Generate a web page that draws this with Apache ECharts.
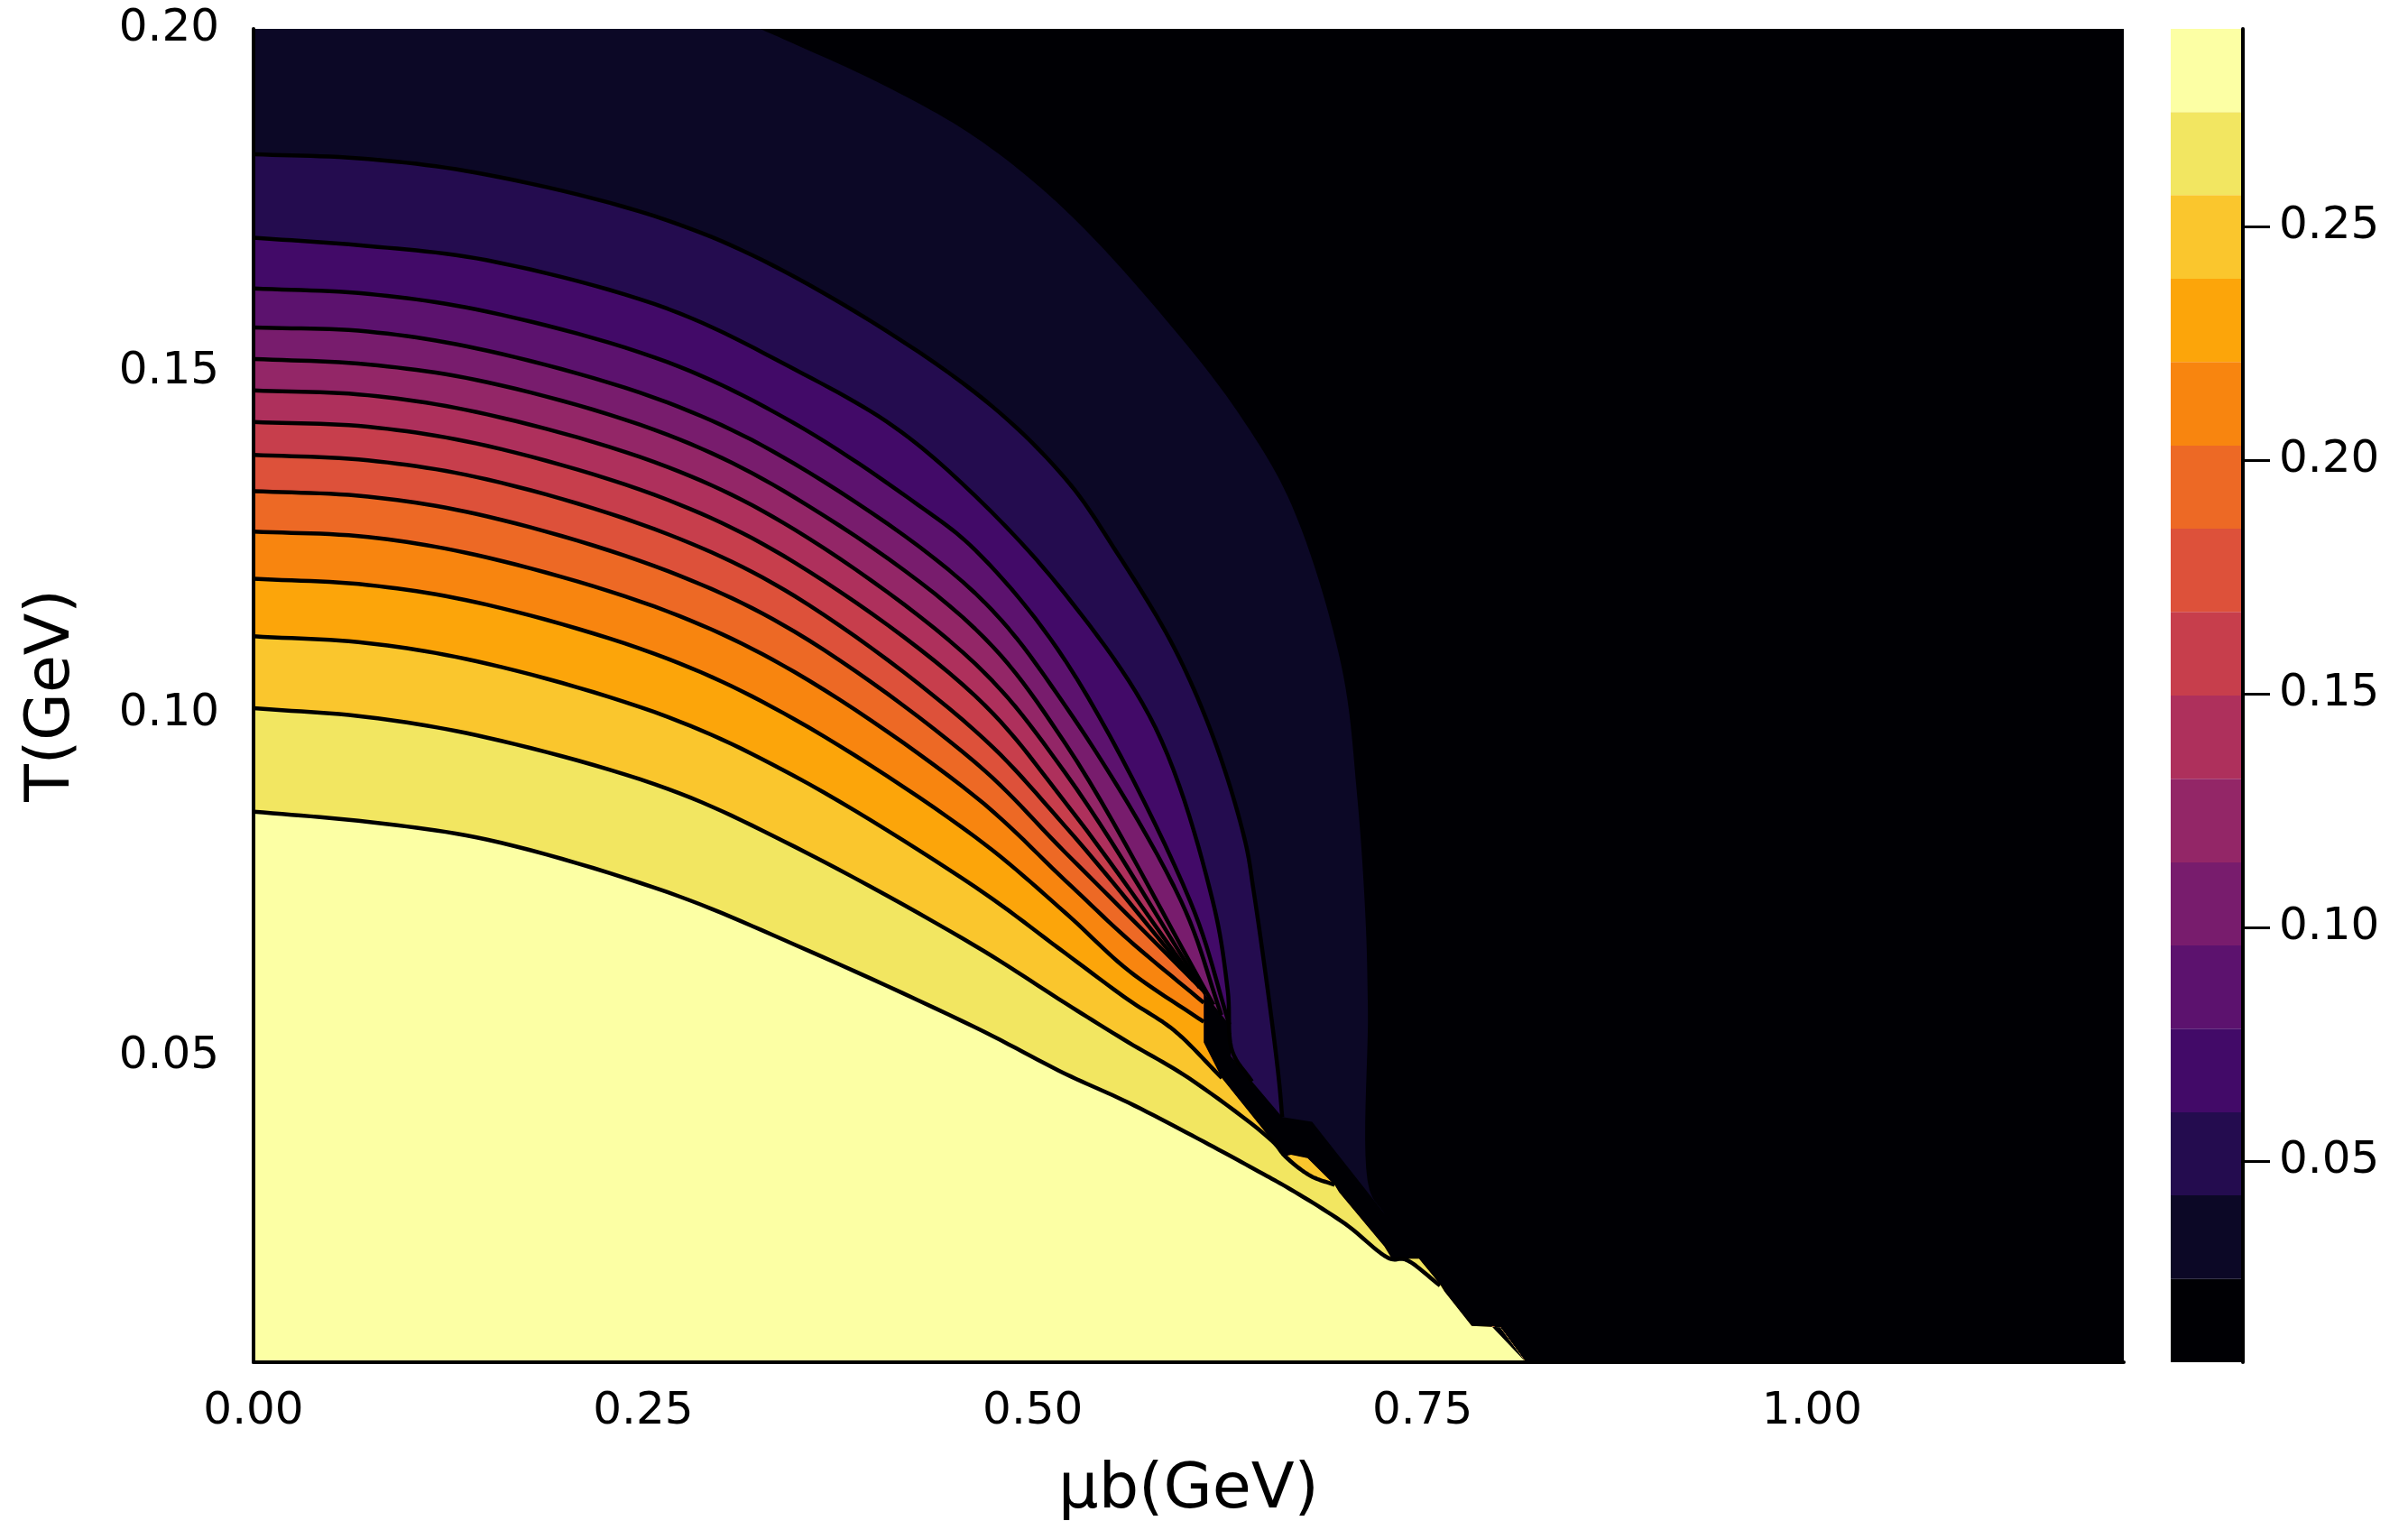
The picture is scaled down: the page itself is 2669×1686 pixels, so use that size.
<!DOCTYPE html>
<html>
<head>
<meta charset="utf-8">
<title>contour</title>
<script src="https://cdn.jsdelivr.net/npm/echarts@6.0.0/dist/echarts.min.js"></script>
<style>
html, body { margin: 0; padding: 0; background: #fff; }
#box { width: 2669px; height: 1686px; }
</style>
</head>
<body>
<div id="box"></div>
<script>
// axes
var T_MIN = 0.0053, T_MAX = 0.2, MU_MAX = 1.2;
var xTicks = [0, 0.25, 0.5, 0.75, 1.0];
var yTicks = [0.05, 0.10, 0.15, 0.20];
var barTicks = [0.05, 0.10, 0.15, 0.20, 0.25];

// colour bar: level boundaries and band colours (inferno)
var levels = [0.0069, 0.0247, 0.0426, 0.0604, 0.0783, 0.0961, 0.1139, 0.1318, 0.1496,
              0.1675, 0.1853, 0.2031, 0.2210, 0.2388, 0.2567, 0.2745, 0.2923];
var colors = ['#000004', '#0c0826', '#240c4f', '#420a68', '#5c126e', '#781c6d', '#932667', '#ae305c',
              '#c73e4c', '#dd513a', '#ed6925', '#f8850f', '#fca50a', '#fac62d', '#f2e661', '#fcffa4'];

// contour k: boundary between colour k-1 (outside) and colour k (inside), points [mu, T]
// (c01 starts on the top edge, all others on the T axis)
var c01 = [[0.325,0.2],[0.347,0.1978],[0.405,0.1917],[0.463,0.1842],[0.521,0.1735],
           [0.591,0.1560],[0.634,0.1432],[0.666,0.1305],[0.698,0.1070],[0.708,0.0883],
           [0.7136,0.0695],[0.715,0.0568],[0.716,0.0305],[0.7256,0.0270]];
var c02 = [[0,0.1817],[0.0734,0.1810],[0.150,0.1787],[0.266,0.1720],[0.347,0.1638],[0.463,0.1469],[0.521,0.1343],
           [0.554,0.1235],[0.5912,0.1094],[0.6178,0.0953],[0.6364,0.0812],[0.6417,0.0741],[0.6524,0.0568],
           [0.658,0.0463],[0.660,0.0411]];
var c03 = [[0,0.1695],[0.0734,0.1683],[0.150,0.1662],[0.266,0.1591],[0.347,0.1503],[0.411,0.1419],[0.463,0.1318],
           [0.521,0.1174],[0.5788,0.0979],[0.6155,0.0726],[0.6251,0.0595],[0.628,0.0507],[0.6406,0.0463]];
var c04 = [[0,0.1621],[0.0734,0.1613],[0.150,0.1587],[0.266,0.1513],[0.347,0.1424],[0.4263,0.1305],[0.463,0.1239],
           [0.521,0.1077],[0.601,0.0726],[0.6261,0.0546]];
var c05 = [[0,0.1564],[0.0734,0.1558],[0.150,0.1530],[0.266,0.1454],[0.347,0.1365],[0.463,0.1176],[0.521,0.1011],
           [0.5952,0.0726],[0.621,0.0560]];
var c06 = [[0,0.1518],[0.0734,0.1510],[0.150,0.1484],[0.266,0.1407],[0.347,0.1316],[0.463,0.1124],[0.521,0.0956],
           [0.616,0.0575]];
var c07 = [[0,0.1472],[0.0734,0.1465],[0.150,0.1437],[0.266,0.1360],[0.347,0.1269],[0.463,0.1073],[0.521,0.0913],
           [0.611,0.0590]];
var c08 = [[0,0.1426],[0.0734,0.1419],[0.150,0.1391],[0.266,0.1312],[0.347,0.1221],[0.463,0.1026],[0.521,0.0870],
           [0.607,0.0600]];
var c09 = [[0,0.1378],[0.0734,0.1370],[0.150,0.1342],[0.266,0.1262],[0.347,0.1172],[0.463,0.0975],[0.521,0.0835],
           [0.603,0.0610]];
var c10 = [[0,0.1325],[0.0734,0.1317],[0.150,0.1288],[0.266,0.1208],[0.347,0.1120],[0.463,0.0929],[0.521,0.0797],
           [0.6097,0.0595]];
var c11 = [[0,0.1266],[0.0734,0.1258],[0.150,0.1228],[0.266,0.1149],[0.347,0.1061],[0.463,0.0879],[0.521,0.0756],
           [0.5614,0.0670],[0.6097,0.0578]];
var c12 = [[0,0.1197],[0.0734,0.1188],[0.150,0.1159],[0.266,0.1080],[0.347,0.0992],[0.463,0.0820],[0.521,0.0709],
           [0.5614,0.0625],[0.6097,0.0550]];
var c13 = [[0,0.1113],[0.0734,0.1103],[0.150,0.1073],[0.266,0.0995],[0.347,0.0909],[0.463,0.0747],[0.521,0.0650],
           [0.5614,0.0582],[0.5904,0.0538],[0.6213,0.0468]];
var c14 = [[0,0.1008],[0.0734,0.0995],[0.150,0.0965],[0.266,0.0890],[0.347,0.0806],[0.463,0.0661],[0.521,0.0577],
           [0.5614,0.0520],[0.600,0.0468],[0.6541,0.0375],[0.6618,0.0354],[0.6783,0.0325],[0.6937,0.0312]];
var c15 = [[0,0.0857],[0.0734,0.0842],[0.150,0.0816],[0.266,0.0739],[0.347,0.0663],[0.463,0.0542],
           [0.521,0.0474],[0.5614,0.0432],[0.6097,0.0375],[0.6445,0.0332],[0.6657,0.0305],[0.7005,0.0255],
           [0.7294,0.0204],[0.739,0.0203],[0.7613,0.0165]];

// black jagged band along the transition line
var lowerEdge = [[0.603,0.0612],[0.6097,0.0599],[0.6097,0.0520],[0.6213,0.0468],[0.6541,0.0375],[0.6618,0.0354],
                 [0.6657,0.0356],[0.6763,0.0351],[0.6937,0.0312],[0.6966,0.0301],[0.7256,0.0222],[0.7304,0.0204],
                 [0.7478,0.0204],[0.7613,0.0167],[0.7642,0.0156],[0.7816,0.0106],[0.7999,0.0104],[0.8163,0.0053]];
var upperEdge = [[0.603,0.0612],[0.6261,0.0546],[0.6271,0.0500],[0.6406,0.0463],[0.660,0.0411],[0.6792,0.0404],
                 [0.7256,0.0270]];

var contours = [c01, c02, c03, c04, c05, c06, c07, c08, c09, c10, c11, c12, c13, c14, c15];

// centripetal Catmull-Rom through pixel points, drawing only
function spline(pts) {
    var n = pts.length;
    if (n < 3) return pts.slice();
    var P = [[2 * pts[0][0] - pts[1][0], 2 * pts[0][1] - pts[1][1]]].concat(pts)
        .concat([[2 * pts[n - 1][0] - pts[n - 2][0], 2 * pts[n - 1][1] - pts[n - 2][1]]]);
    var knot = function (a, b) {
        return Math.max(Math.sqrt(Math.hypot(b[0] - a[0], b[1] - a[1])), 1e-3);
    };
    var lerp = function (a, b, ta, tb, t) {
        var u = (t - ta) / (tb - ta);
        return [a[0] + (b[0] - a[0]) * u, a[1] + (b[1] - a[1]) * u];
    };
    var out = [pts[0]];
    for (var i = 1; i < P.length - 2; i++) {
        var p0 = P[i - 1], p1 = P[i], p2 = P[i + 1], p3 = P[i + 2];
        var t0 = 0, t1 = t0 + knot(p0, p1), t2 = t1 + knot(p1, p2), t3 = t2 + knot(p2, p3);
        for (var s = 1; s <= 12; s++) {
            var t = t1 + (t2 - t1) * s / 12;
            var a1 = lerp(p0, p1, t0, t1, t), a2 = lerp(p1, p2, t1, t2, t), a3 = lerp(p2, p3, t2, t3, t);
            var b1 = lerp(a1, a2, t0, t2, t), b2 = lerp(a2, a3, t1, t3, t);
            out.push(lerp(b1, b2, t1, t2, t));
        }
    }
    return out;
}

function tailOf(curve) {
    var end = curve[curve.length - 1];
    for (var i = 0; i < lowerEdge.length; i++) {
        if (lowerEdge[i][1] < end[1]) return lowerEdge.slice(i);
    }
    return [];
}

var chart = echarts.init(document.getElementById('box'));
var font = 'DejaVu Sans';
var fmt = function (v) { return v.toFixed(2); };
var toPx = function (api) { return function (p) { return api.coord(p); }; };

var series = [];
// filled bands, lowest level first
series.push({
    type: 'custom',
    xAxisIndex: 0, yAxisIndex: 0,
    clip: true, silent: true, z: 2,
    data: contours.map(function (c, i) { return [0, T_MIN, i + 1]; }),
    renderItem: function (params, api) {
        var k = api.value(2);
        var curve = contours[k - 1];
        var head = curve[0][0] > 0 ? [[0, T_MIN], [0, T_MAX]] : [[0, T_MIN]];
        var pts = head.map(toPx(api))
            .concat(spline(curve.map(toPx(api))))
            .concat(tailOf(curve).map(toPx(api)));
        return { type: 'polygon', shape: { points: pts }, style: { fill: colors[k] } };
    }
});
// jagged black band
series.push({
    type: 'custom',
    xAxisIndex: 0, yAxisIndex: 0,
    clip: true, silent: true, z: 3,
    data: [[0, T_MIN]],
    renderItem: function (params, api) {
        var poly = lowerEdge.concat(upperEdge.slice().reverse());
        return { type: 'polygon', shape: { points: poly.map(toPx(api)) }, style: { fill: colors[0] } };
    }
});
// contour lines
series.push({
    type: 'custom',
    xAxisIndex: 0, yAxisIndex: 0,
    clip: true, silent: true, z: 4,
    data: contours.slice(1).map(function (c, i) { return [0, T_MIN, i + 2]; }),
    renderItem: function (params, api) {
        var curve = contours[api.value(2) - 1];
        return {
            type: 'polyline',
            shape: { points: spline(curve.map(toPx(api))) },
            style: { stroke: '#000', lineWidth: 4.5, fill: null, lineJoin: 'round' }
        };
    }
});
// colour bar
series.push({
    type: 'custom',
    xAxisIndex: 1, yAxisIndex: 1,
    silent: true,
    data: colors.map(function (c, i) { return [0, levels[i], i]; }),
    renderItem: function (params, api) {
        var i = api.value(2);
        var p0 = api.coord([0, levels[i]]);
        var p1 = api.coord([1, levels[i + 1]]);
        return {
            type: 'rect',
            shape: { x: p0[0], y: p1[1], width: p1[0] - p0[0], height: p0[1] - p1[1] },
            style: { fill: colors[i] }
        };
    }
});

var option = {
    animation: false,
    backgroundColor: '#fff',
    textStyle: { fontFamily: font },
    grid: [
        { left: 281, top: 32, width: 2073, height: 1478, show: true, backgroundColor: colors[0], borderWidth: 0,
          containLabel: false, outerBoundsMode: 'none' },
        { left: 2406, top: 32, width: 80, height: 1478, containLabel: false, outerBoundsMode: 'none' }
    ],
    xAxis: [
        {
            type: 'value', gridIndex: 0, min: 0, max: MU_MAX, z: 10,
            name: 'μb(GeV)', nameLocation: 'middle', nameGap: 108,
            nameTextStyle: { fontSize: 70, color: '#000', fontFamily: font },
            axisLine: { show: true, onZero: false, lineStyle: { color: '#000', width: 4 } },
            axisTick: { show: false },
            splitLine: { show: false },
            axisLabel: { customValues: xTicks, formatter: fmt, fontSize: 50, color: '#000', margin: 30, fontFamily: font }
        },
        { type: 'value', gridIndex: 1, min: 0, max: 1, show: false }
    ],
    yAxis: [
        {
            type: 'value', gridIndex: 0, min: T_MIN, max: T_MAX, z: 10,
            name: 'T(GeV)', nameLocation: 'middle', nameGap: 189,
            nameTextStyle: { fontSize: 68, color: '#000', fontFamily: font },
            axisLine: { show: true, onZero: false, lineStyle: { color: '#000', width: 4 } },
            axisTick: { show: false },
            splitLine: { show: false },
            axisLabel: { customValues: yTicks, formatter: fmt, fontSize: 50, color: '#000', margin: 38, fontFamily: font }
        },
        {
            type: 'value', gridIndex: 1, position: 'right', min: levels[0], max: levels[levels.length - 1], z: 10,
            axisLine: { show: true, onZero: false, lineStyle: { color: '#000', width: 4 } },
            axisTick: { show: true, customValues: barTicks, length: 30, lineStyle: { color: '#000', width: 3 } },
            splitLine: { show: false },
            axisLabel: { customValues: barTicks, formatter: fmt, fontSize: 50, color: '#000', margin: 40, fontFamily: font }
        }
    ],
    series: series
};
chart.setOption(option);
</script>
</body>
</html>
